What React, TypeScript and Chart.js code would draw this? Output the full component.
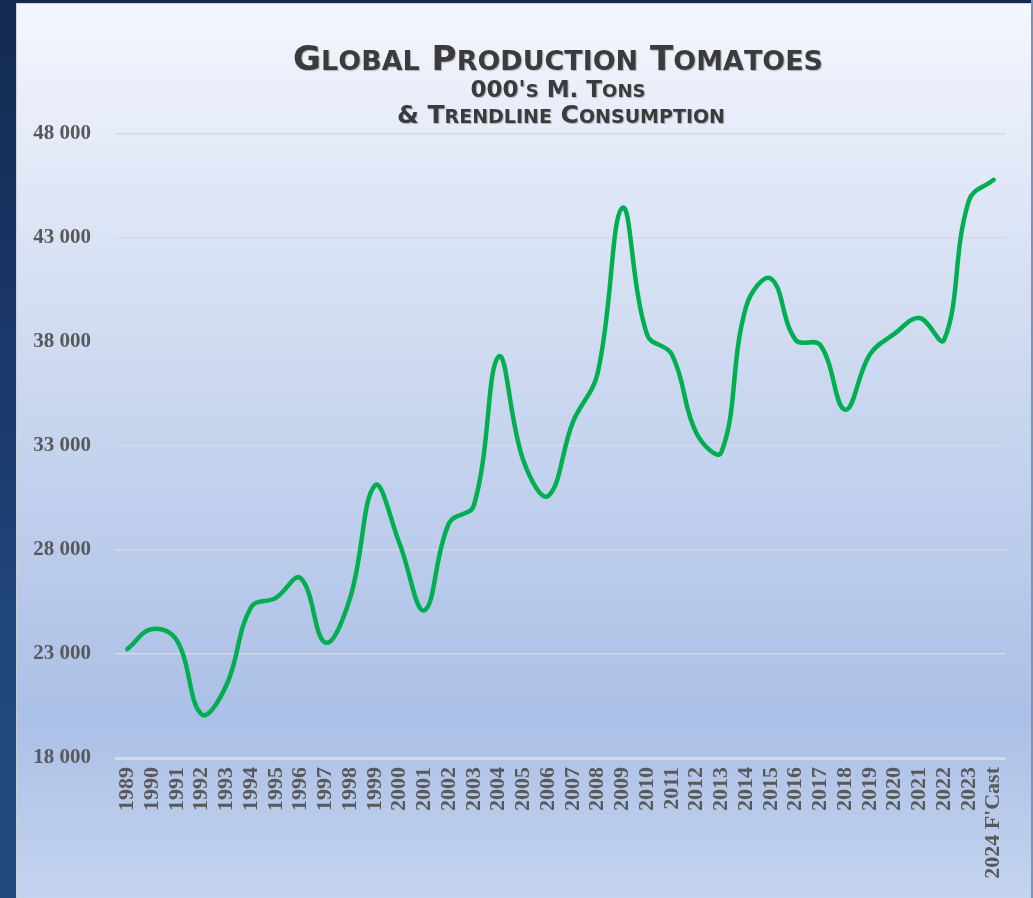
import React, { useEffect, useRef } from "react";
import { Chart, registerables } from "chart.js";

Chart.register(...registerables);

const years: string[] = [
  "1989", "1990", "1991", "1992", "1993", "1994", "1995", "1996", "1997", "1998",
  "1999", "2000", "2001", "2002", "2003", "2004", "2005", "2006", "2007", "2008",
  "2009", "2010", "2011", "2012", "2013", "2014", "2015", "2016", "2017", "2018",
  "2019", "2020", "2021", "2022", "2023", "2024 F'Cast",
];

const production: number[] = [
  23240, 24200, 23650, 20100, 21500, 25250, 25700, 26650, 23550, 25700,
  31100, 28300, 25100, 29300, 30150, 37300, 32300, 30600, 34150, 36500,
  44450, 38350, 37400, 33600, 32700, 39700, 41050, 38100, 37850, 34750,
  37400, 38400, 39150, 38100, 44800, 45800,
];

const yMin = 18000;
const yMax = 48000;
const yStep = 5000;

const titleLines: string[] = [
  "Global Production Tomatoes",
  "000's M. Tons",
  "& Trendline Consumption",
];

function drawSmallCaps(
  ctx: CanvasRenderingContext2D,
  text: string,
  cx: number,
  baseline: number,
  big: number,
  small: number,
  targetW: number,
  family: string
) {
  const segs: { t: string; size: number; w: number }[] = [];
  for (const ch of text) {
    const lower = ch !== ch.toUpperCase();
    segs.push({ t: lower ? ch.toUpperCase() : ch, size: lower ? small : big, w: 0 });
  }
  let total = 0;
  for (const s of segs) {
    ctx.font = `bold ${s.size}px ${family}`;
    s.w = ctx.measureText(s.t).width;
    total += s.w;
  }
  const sx = targetW / total;
  ctx.save();
  ctx.translate(cx - targetW / 2, baseline);
  ctx.scale(sx, 1);
  ctx.textBaseline = "alphabetic";
  ctx.textAlign = "left";
  ctx.fillStyle = "#3b3b3b";
  ctx.shadowColor = "rgba(0,0,0,0.25)";
  ctx.shadowOffsetX = 1;
  ctx.shadowOffsetY = 1;
  ctx.shadowBlur = 1;
  let x = 0;
  for (const s of segs) {
    ctx.font = `bold ${s.size}px ${family}`;
    ctx.fillText(s.t, x, 0);
    x += s.w;
  }
  ctx.restore();
}

const backgroundPlugin = {
  id: "panelBackground",
  beforeDraw(chart: any) {
    const { ctx, width, height } = chart;
    ctx.save();
    const outer = ctx.createLinearGradient(0, 0, 0, height);
    outer.addColorStop(0, "#132a52");
    outer.addColorStop(0.66, "#1f427a");
    outer.addColorStop(0.68, "#22477f");
    outer.addColorStop(1, "#22487f");
    ctx.fillStyle = outer;
    ctx.fillRect(0, 0, width, height);
    const px = 16;
    const py = 3;
    const pw = width - 2 - px;
    const ph = height - py;
    const g = ctx.createLinearGradient(0, py, 0, height);
    g.addColorStop(0, "#f3f6fd");
    g.addColorStop(0.45, "#c9d6ef");
    g.addColorStop(0.8, "#abc0e6");
    g.addColorStop(1, "#c4d4ef");
    ctx.fillStyle = g;
    ctx.fillRect(px, py, pw, ph);
    ctx.strokeStyle = "rgba(200,205,215,0.9)";
    ctx.lineWidth = 1;
    ctx.beginPath();
    ctx.moveTo(px + 0.5, height);
    ctx.lineTo(px + 0.5, py + 0.5);
    ctx.lineTo(px + pw, py + 0.5);
    ctx.stroke();
    ctx.fillStyle = "#7f93b9";
    ctx.fillRect(width - 2, 0, 2, height);
    ctx.restore();
  },
  afterDraw(chart: any) {
    const ctx = chart.ctx as CanvasRenderingContext2D;
    const fam = "'DejaVu Sans', sans-serif";
    drawSmallCaps(ctx, titleLines[0], 558, 70, 33, 26, 530, fam);
    drawSmallCaps(ctx, titleLines[1], 558, 97, 23, 18, 175, fam);
    drawSmallCaps(ctx, titleLines[2], 561, 123, 25, 19, 328, fam);
  },
};

export default function App() {
  const ref = useRef<HTMLCanvasElement | null>(null);

  useEffect(() => {
    if (!ref.current) return;
    const chart = new Chart(ref.current, {
      type: "line",
      data: {
        labels: years,
        datasets: [
          {
            label: "Production",
            data: production,
            borderColor: "#00b050",
            borderWidth: 4.5,
            pointRadius: 0,
            tension: 0.4,
            fill: false,
            borderCapStyle: "round",
            borderJoinStyle: "round",
          },
        ],
      },
      options: {
        responsive: false,
        animation: false,
        layout: { padding: { top: 134, right: 27, left: 0, bottom: 0 } },
        plugins: {
          legend: { display: false },
          title: { display: false },
          tooltip: { enabled: false },
        },
        scales: {
          x: {
            type: "category",
            offset: true,
            grid: { display: false, drawTicks: false },
            border: { display: false },
            ticks: {
              autoSkip: false,
              maxRotation: 90,
              minRotation: 90,
              padding: 9,
              color: "#595959",
              font: { family: "'Liberation Serif', 'Times New Roman', serif", size: 22, weight: "bold" },
            },
            afterFit(scale: any) {
              scale.height = 140;
            },
          },
          y: {
            min: yMin,
            max: yMax,
            border: { display: false },
            grid: {
              drawTicks: false,
              color: "#d9d9d9",
              lineWidth: (c: any) => (c.tick && c.tick.value === yMin ? 3 : 1.5),
            },
            ticks: {
              stepSize: yStep,
              padding: 24,
              color: "#595959",
              font: { family: "'Liberation Serif', 'Times New Roman', serif", size: 21, weight: "bold" },
              callback: (v: any) => {
                const n = Number(v);
                const th = Math.floor(n / 1000);
                return `${th} 000`;
              },
            },
            afterFit(scale: any) {
              scale.width = 115;
            },
          },
        },
      },
      plugins: [backgroundPlugin],
    });
    return () => chart.destroy();
  }, []);

  return (
    <div style={{ position: "fixed", left: 0, top: 0, width: 1033, height: 898 }}>
      <canvas ref={ref} width={1033} height={898} style={{ display: "block" }} />
    </div>
  );
}
